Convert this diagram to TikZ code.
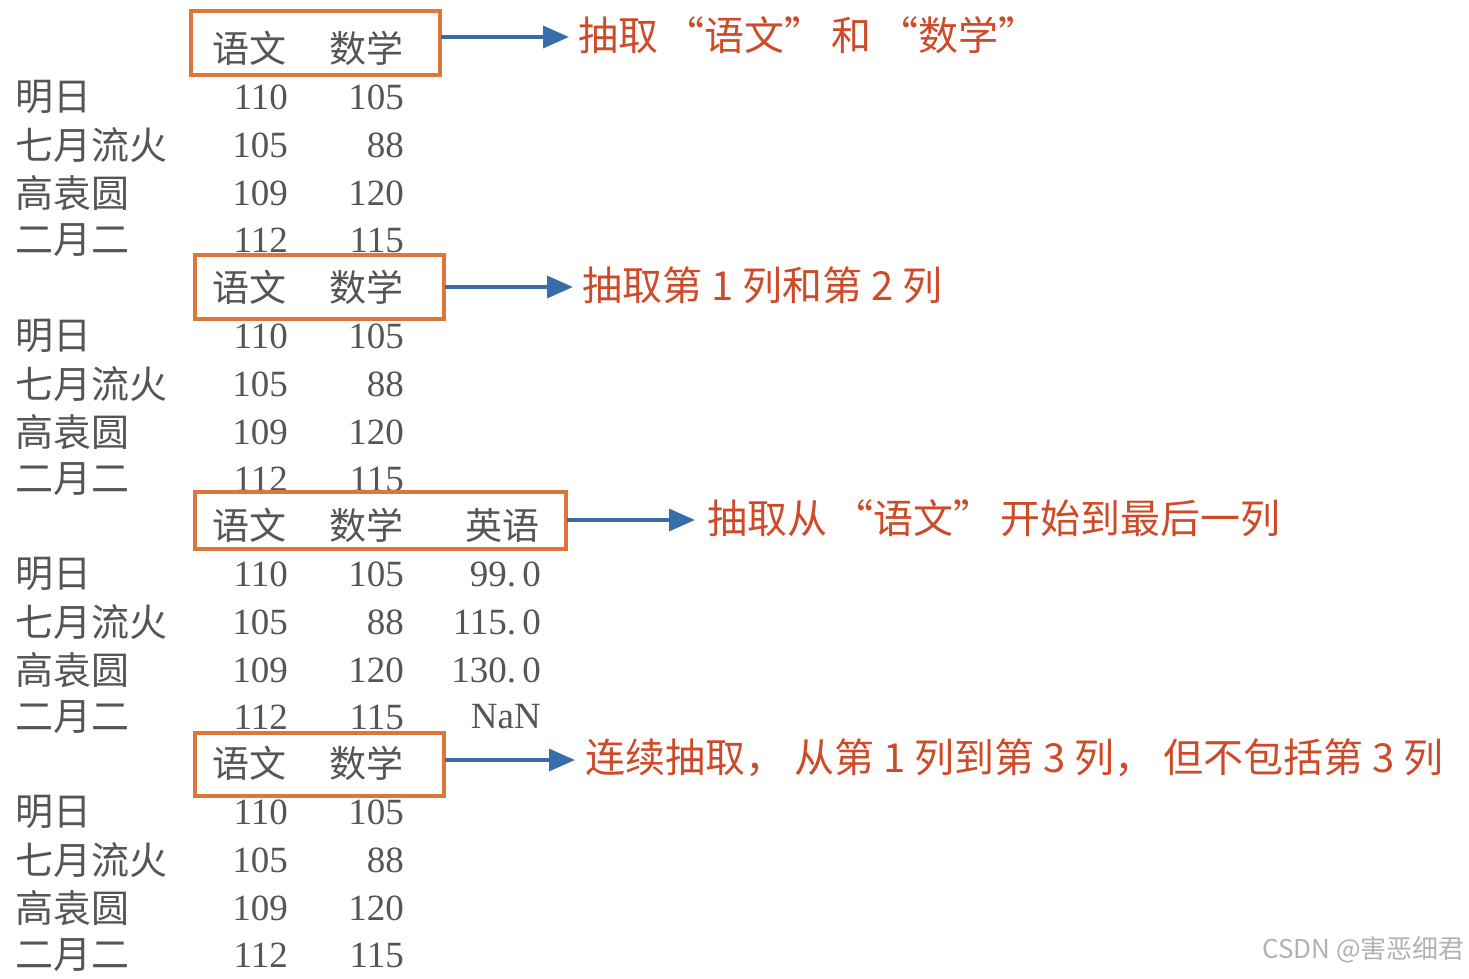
\documentclass[tikz,border=0pt]{standalone}
\usepackage{fontspec}
\newfontfamily\cjk{Noto Sans CJK SC}
\newfontfamily\num{Liberation Serif}
\usetikzlibrary{arrows.meta}
\definecolor{txt}{RGB}{85,85,85}
\definecolor{box}{RGB}{222,118,58}
\definecolor{arr}{RGB}{55,110,170}
\definecolor{lab}{RGB}{205,75,40}
\tikzset{
 lbl/.style={anchor=west,text=txt,font=\cjk\fontsize{38}{38}\selectfont,inner sep=0},
 hd/.style={text=txt,font=\cjk\fontsize{37}{37}\selectfont,inner sep=0},
 nm/.style={anchor=east,text=txt,font=\num\fontsize{37}{37}\selectfont,inner sep=0},
 obox/.style={draw=box,line width=3.5pt},
 barr/.style={draw=arr,line width=3.5pt,-{Triangle[length=26pt,width=22pt]}},
 note/.style={anchor=west,text=lab,font=\cjk\fontsize{40}{40}\selectfont,inner sep=0}
}
\begin{document}
\begin{tikzpicture}[x=1pt,y=-1pt]
\useasboundingbox[fill=white] (0,0) rectangle (1469,978);
\newcommand\blk[2]{%
 \node[hd] (#2h1) at (249,#1) {语文};
 \node[hd] (#2h2) at (366,#1) {数学};
 \node[lbl] (#2r1) at (15,#1+49) {明日};
 \node[lbl] (#2r2) at (15,#1+97) {七月流火};
 \node[lbl] (#2r3) at (15,#1+145) {高袁圆};
 \node[lbl] (#2r4) at (15,#1+192) {二月二};
 \node[nm] (#2a1) at (288,#1+49) {110};
 \node[nm] (#2a2) at (288,#1+97) {105};
 \node[nm] (#2a3) at (288,#1+145) {109};
 \node[nm] (#2a4) at (288,#1+192) {112};
 \node[nm] (#2b1) at (404,#1+49) {105};
 \node[nm] (#2b2) at (404,#1+97) {88};
 \node[nm] (#2b3) at (404,#1+145) {120};
 \node[nm] (#2b4) at (404,#1+192) {115};
}
\blk{48}{A}
\blk{287}{B}
\blk{525}{C}
\blk{763}{D}
\node[hd] (Ch3) at (502,525) {英语};
\node[nm] (Cc1) at (541,574) {99.\,0};
\node[nm] (Cc2) at (541,622) {115.\,0};
\node[nm] (Cc3) at (541,670) {130.\,0};
\node[nm] (Cc4) at (541,717) {NaN};
\draw[obox] (191,11) rectangle (440,75);
\draw[obox] (195,255) rectangle (444,319);
\draw[obox] (195,492) rectangle (566,549);
\draw[obox] (195,733) rectangle (444,796);
\coordinate (e1) at (441,37); \coordinate (e2) at (445,287);
\coordinate (e3) at (567,520); \coordinate (e4) at (445,760);
\node[note] (n1) at (578,35) {抽取\,“语文”\,和\,“数学”};
\node[note] (n2) at (582,285) {抽取第\ 1\ 列和第\ 2\ 列};
\node[note] (n3) at (707,518) {抽取从\,“语文”\,开始到最后一列};
\node[note] (n4) at (585,758) {连续抽取，\ 从第\ 1\ 列到第\ 3\ 列，\ 但不包括第\ 3\ 列};
\draw[barr] (e1) -- ([xshift=-9pt]n1.west|-e1);
\draw[barr] (e2) -- ([xshift=-9pt]n2.west|-e2);
\draw[barr] (e3) -- ([xshift=-12pt]n3.west|-e3);
\draw[barr] (e4) -- ([xshift=-10pt]n4.west|-e4);
\node[anchor=east,text=gray!60,font=\cjk\fontsize{26}{26}\selectfont,inner sep=0] (wm) at (1465,950) {CSDN @害恶细君};
\end{tikzpicture}
\end{document}
